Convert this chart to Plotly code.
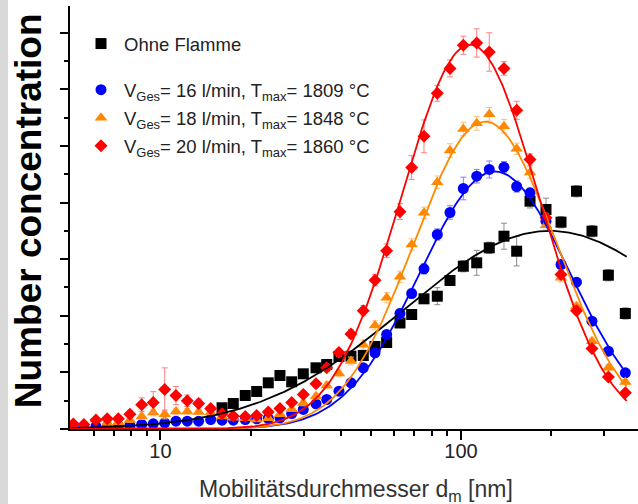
import numpy as np
import plotly.graph_objects as go

# ---------------- data ----------------
# mobility diameters of the SMPS channels [nm]
d_flame = [5.13, 5.56, 6.10, 6.65, 7.24, 7.91, 8.66, 9.46, 10.33, 11.26,
           12.28, 13.40, 14.69, 16.03, 17.47, 19.15, 20.90, 22.84, 24.98, 27.33,
           29.87, 32.93, 35.74, 39.26, 43.04, 47.30, 51.74, 56.58, 62.66, 68.53,
           75.32, 83.40, 91.92, 101.8, 112.8, 124.2, 139.0, 153.2, 169.7, 191.8,
           215.2, 242.3, 272.8, 309.3, 352.3]

n_v16 = [0.035, 0.035, 0.044, 0.044, 0.053, 0.062, 0.08, 0.092, 0.11, 0.138,
         0.138, 0.138, 0.168, 0.155, 0.155, 0.168, 0.18, 0.186, 0.198, 0.274,
         0.345, 0.445, 0.521, 0.668, 0.816, 1.081, 1.346, 1.67, 2.041, 2.394,
         2.83, 3.436, 3.825, 4.249, 4.466, 4.585, 4.625, 4.284, 4.173, 3.671,
         2.906, 2.594, 1.905, 1.375, 0.993]
e_v16 = [0.02, 0.02, 0.02, 0.02, 0.02, 0.02, 0.03, 0.03, 0.03, 0.03,
         0.03, 0.03, 0.03, 0.03, 0.03, 0.03, 0.03, 0.03, 0.03, 0.04,
         0.04, 0.04, 0.05, 0.05, 0.05, 0.06, 0.06, 0.07, 0.08, 0.08,
         0.09, 0.10, 0.12, 0.20, 0.12, 0.15, 0.10, 0.10, 0.08, 0.07,
         0.06, 0.06, 0.05, 0.05, 0.04]

n_v18 = [0.05, 0.05, 0.17, 0.11, 0.12, 0.16, 0.22, 0.29, 0.26, 0.31,
         0.31, 0.30, 0.29, 0.22, 0.20, 0.19, 0.17, 0.19, 0.26, 0.35,
         0.46, 0.58, 0.77, 0.98, 1.20, 1.49, 1.83, 2.32, 2.69, 3.26,
         3.82, 4.36, 4.92, 5.30, 5.40, 5.56, 5.35, 4.95, 4.53, 3.60,
         2.67, 2.17, 1.55, 1.08, 0.83]
e_v18 = [0.02, 0.02, 0.03, 0.03, 0.03, 0.04, 0.05, 0.06, 0.08, 0.06,
         0.05, 0.04, 0.04, 0.03, 0.03, 0.03, 0.03, 0.03, 0.04, 0.04,
         0.05, 0.05, 0.06, 0.06, 0.07, 0.08, 0.08, 0.09, 0.10, 0.10,
         0.10, 0.11, 0.12, 0.12, 0.12, 0.12, 0.12, 0.10, 0.10, 0.08,
         0.07, 0.06, 0.05, 0.05, 0.04]

n_v20 = [0.09, 0.08, 0.16, 0.18, 0.18, 0.26, 0.43, 0.47, 0.70, 0.59,
         0.50, 0.45, 0.36, 0.27, 0.23, 0.22, 0.24, 0.30, 0.36, 0.47,
         0.61, 0.80, 1.08, 1.35, 1.68, 2.09, 2.63, 3.15, 3.84, 4.62,
         5.17, 5.93, 6.37, 6.78, 6.82, 6.66, 6.37, 5.63, 4.76, 3.73,
         2.73, 2.09, 1.42, 0.92, 0.64]
e_v20 = [0.03, 0.03, 0.04, 0.04, 0.05, 0.06, 0.12, 0.19, 0.38, 0.16,
         0.10, 0.08, 0.05, 0.04, 0.04, 0.04, 0.04, 0.04, 0.05, 0.05,
         0.05, 0.06, 0.06, 0.07, 0.08, 0.09, 0.10, 0.12, 0.14, 0.21,
         0.29, 0.14, 0.15, 0.16, 0.25, 0.34, 0.12, 0.16, 0.10, 0.08,
         0.07, 0.06, 0.05, 0.04, 0.04]

d_ohne = [16.03, 17.47, 19.15, 20.90, 22.84, 24.98, 27.33, 29.87, 32.93, 35.74,
          39.26, 43.04, 47.30, 51.74, 56.58, 62.66, 68.53, 75.32, 83.40, 91.92,
          101.8, 112.8, 124.2, 139.0, 153.2, 169.7, 191.8, 215.2, 242.3, 272.8,
          309.3, 352.3]
n_ohne = [0.375, 0.451, 0.592, 0.663, 0.816, 0.945, 0.834, 0.975, 1.081, 1.14,
          1.281, 1.286, 1.299, 1.458, 1.528, 1.873, 2.023, 2.300, 2.346, 2.624,
          2.876, 2.936, 3.201, 3.406, 3.141, 4.025, 3.878, 3.654, 4.201, 3.495,
          2.717, 2.041]
e_ohne = [0.03, 0.03, 0.03, 0.04, 0.04, 0.04, 0.05, 0.05, 0.05, 0.05,
          0.05, 0.05, 0.05, 0.06, 0.06, 0.06, 0.07, 0.08, 0.15, 0.08,
          0.10, 0.22, 0.10, 0.23, 0.26, 0.12, 0.20, 0.10, 0.10, 0.10,
          0.10, 0.10]

# lognormal fit parameters: amplitude, geometric mean diameter [nm], ln(sigma_g)
fit_amp = {"ohne": 3.50, "v16": 4.55, "v18": 5.43, "v20": 6.79}
fit_dg = {"ohne": 197.6, "v16": 129.7, "v18": 120.3, "v20": 107.2}
fit_lns = {"ohne": 1.113, "v16": 0.575, "v18": 0.545, "v20": 0.525}

labels = {
    "ohne": "Ohne Flamme",
    "v16": "V<sub>Ges</sub>= 16 l/min, T<sub>max</sub>= 1809 °C",
    "v18": "V<sub>Ges</sub>= 18 l/min, T<sub>max</sub>= 1848 °C",
    "v20": "V<sub>Ges</sub>= 20 l/min, T<sub>max</sub>= 1860 °C",
}

x_ticks_major = [10, 100]
x_ticks_minor = [6, 7, 8, 9, 20, 30, 40, 50, 60, 70, 80, 90, 200, 300]
y_ticks_major = [0, 1, 2, 3, 4, 5, 6, 7]
y_ticks_minor = [0.5, 1.5, 2.5, 3.5, 4.5, 5.5, 6.5]

# ---------------- style ----------------
FONT = "Arial, 'Liberation Sans', sans-serif"
colors = {"ohne": "#000000", "v16": "#0000ff", "v18": "#ff8800", "v20": "#ff0000"}
err_colors = {"ohne": "#8c8c8c", "v16": "#8080ff", "v18": "#ffc080", "v20": "#ff8080"}
symbols = {"ohne": "square", "v16": "circle", "v18": "triangle-up", "v20": "diamond"}
sizes = {"ohne": 11, "v16": 11, "v18": 11, "v20": 10}

series = {
    "ohne": (d_ohne, n_ohne, e_ohne),
    "v16": (d_flame, n_v16, e_v16),
    "v18": (d_flame, n_v18, e_v18),
    "v20": (d_flame, n_v20, e_v20),
}

x_lo, x_hi = np.log10(5.0), 2.589
y_hi = 7.473
d_fit = np.logspace(np.log10(5.0), np.log10(356.0), 300)

fig = go.Figure()
for key in ["ohne", "v16", "v18", "v20"]:
    d, n, e = series[key]
    fig.add_trace(go.Scatter(
        x=d, y=n, mode="markers", name=labels[key],
        legend="legend" if key == "ohne" else "legend2",
        legendgroup=key,
        marker=dict(symbol=symbols[key], size=sizes[key], color=colors[key],
                    line=dict(width=0)),
        error_y=dict(type="data", array=e, color=err_colors[key],
                     thickness=1, width=3),
    ))
for key in ["ohne", "v16", "v18", "v20"]:
    y_fit = fit_amp[key] * np.exp(-(np.log(d_fit / fit_dg[key])) ** 2
                                  / (2 * fit_lns[key] ** 2))
    fig.add_trace(go.Scatter(
        x=d_fit, y=y_fit, mode="lines", showlegend=False, hoverinfo="skip",
        line=dict(color=colors[key], width=1.8),
    ))

axis_common = dict(showline=True, linecolor="black", linewidth=1.5,
                   showgrid=False, zeroline=False, tickcolor="black",
                   tickwidth=1.5)
legend_common = dict(xanchor="left", yanchor="top", bgcolor="rgba(0,0,0,0)",
                     font=dict(size=18.5, family=FONT, color="#222222"),
                     itemsizing="trace", itemwidth=36, tracegroupgap=1)

fig.update_layout(
    width=638, height=504,
    margin=dict(l=70, r=0, t=6, b=75),
    paper_bgcolor="white", plot_bgcolor="white",
    font=dict(family=FONT, color="#222222"),
    showlegend=True,
    legend=dict(x=8 / 568, y=0.955, **legend_common),
    legend2=dict(x=8 / 568, y=0.846, **legend_common),
    xaxis=dict(type="log", range=[x_lo, x_hi], ticks="outside",
               tickmode="array", tickvals=x_ticks_major,
               ticktext=[str(v) for v in x_ticks_major], ticklen=9,
               ticklabelstandoff=-6,
               tickfont=dict(size=20, family=FONT, color="#222222"),
               minor=dict(tickmode="array", tickvals=x_ticks_minor, ticks="outside",
                          ticklen=5, tickwidth=1.5, tickcolor="black"),
               **axis_common),
    yaxis=dict(range=[0, y_hi], ticks="outside", tickmode="array",
               tickvals=y_ticks_major, ticklen=8, showticklabels=False,
               minor=dict(tickmode="array", tickvals=y_ticks_minor, ticks="outside",
                          ticklen=4, tickwidth=1.5, tickcolor="black"),
               **axis_common),
    xaxis2=dict(type="log", range=[x_lo, x_hi], overlaying="x", side="top",
                anchor="y", ticks="inside", tickmode="array",
                tickvals=x_ticks_major, ticklen=9, showticklabels=False,
                minor=dict(tickmode="array", tickvals=x_ticks_minor, ticks="inside",
                           ticklen=5, tickwidth=1.5, tickcolor="black"),
                **axis_common),
    yaxis2=dict(range=[0, y_hi], overlaying="y", side="right", anchor="x",
                ticks="inside", tickmode="array", tickvals=y_ticks_major,
                ticklen=6, showticklabels=False,
                minor=dict(tickmode="array", tickvals=y_ticks_minor, ticks="inside",
                           ticklen=3, tickwidth=1.5, tickcolor="black"),
                **axis_common),
    annotations=[
        dict(text="Number concentration", xref="paper", yref="paper",
             x=-42 / 568, y=0.515, textangle=-90, showarrow=False,
             xanchor="center", yanchor="middle",
             font=dict(size=37, family=FONT, color="black", weight="bold")),
        dict(text="Mobilitätsdurchmesser d<sub>m</sub> [nm]", xref="paper",
             yref="paper", x=0.503, y=-61 / 423, showarrow=False,
             xanchor="center", yanchor="middle",
             font=dict(size=23, family=FONT, color="#333333")),
    ],
    shapes=[
        dict(type="rect", xref="paper", yref="paper", x0=-70 / 568, x1=-62 / 568,
             y0=-75 / 423, y1=1 + 6 / 423, fillcolor="#d9d9d9", line=dict(width=0),
             layer="below"),
    ],
)

fig.write_html("out.html", config={"displayModeBar": False},
               post_script="document.body.style.margin='0px';"
                           "document.documentElement.style.overflow='hidden';")
